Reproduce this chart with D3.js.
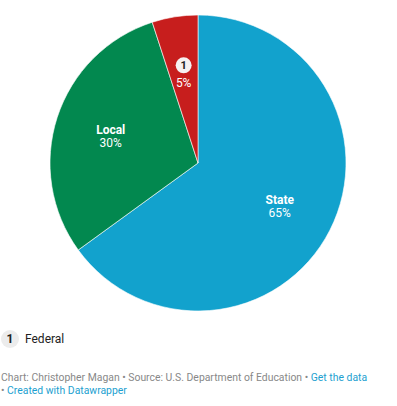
<!DOCTYPE html>
<html>
<head>
<meta charset="utf-8">
<script src="https://cdn.jsdelivr.net/npm/d3@7"></script>
<style>
    body { margin: 0; background: #fff; font-family: Roboto, "Noto Sans", sans-serif; }
    #chart { width: 397px; height: 406px; }
    .footer { font-size: 10.4px; fill: #888; }
    .footer .link { fill: #1d9fd0; }
</style>
</head>
<body>
<div id="chart"></div>
<script>
const categories = ["State", "Local", "Federal"];
const shares = [65, 30, 5];
const sliceColors = ["#12a2cd", "#02884f", "#c71e1d"];

const width = 397;
const height = 406;
const cx = 198;
const cy = 163;
const radius = 148;

const svg = d3.select("#chart")
    .append("svg")
    .attr("width", width)
    .attr("height", height);

const data = categories.map((c, i) => ({ name: c, value: shares[i], color: sliceColors[i] }));

const pie = d3.pie()
    .sort(null)
    .value(d => d.value);

const arc = d3.arc()
    .innerRadius(0)
    .outerRadius(radius);

const labelArc = d3.arc()
    .innerRadius(radius * 0.62)
    .outerRadius(radius * 0.62);

const g = svg.append("g")
    .attr("transform", `translate(${cx}, ${cy})`);

const arcs = pie(data);

g.selectAll("path")
    .data(arcs)
    .enter()
    .append("path")
    .attr("d", arc)
    .attr("fill", d => d.data.color)
    .attr("stroke", "#fff")
    .attr("stroke-width", 0.6);

// slice labels
arcs.forEach(d => {
    const [lx, ly] = labelArc.centroid(d);
    const pct = d.data.value + "%";

    if (d.data.name === "Federal") {
        // small slice gets a numbered marker, name goes in legend
        g.append("circle")
            .attr("cx", lx)
            .attr("cy", ly - 7)
            .attr("r", 8)
            .attr("fill", "#f6f1f1");
        g.append("text")
            .attr("x", lx)
            .attr("y", ly - 3)
            .attr("text-anchor", "middle")
            .attr("font-size", 11)
            .attr("font-weight", "bold")
            .attr("fill", "#222")
            .text("1");
        g.append("text")
            .attr("x", lx)
            .attr("y", ly + 15)
            .attr("text-anchor", "middle")
            .attr("font-size", 12)
            .attr("fill", "#fff")
            .text(pct);
    } else {
        g.append("text")
            .attr("x", lx)
            .attr("y", ly - 1)
            .attr("text-anchor", "middle")
            .attr("font-size", 12)
            .attr("font-weight", "bold")
            .attr("fill", "#fff")
            .text(d.data.name);
        g.append("text")
            .attr("x", lx)
            .attr("y", ly + 12)
            .attr("text-anchor", "middle")
            .attr("font-size", 12)
            .attr("fill", "#fff")
            .text(pct);
    }
});

// legend
svg.append("circle")
    .attr("cx", 10)
    .attr("cy", 339)
    .attr("r", 9)
    .attr("fill", "#ececec");
svg.append("text")
    .attr("x", 10)
    .attr("y", 343)
    .attr("text-anchor", "middle")
    .attr("font-size", 12)
    .attr("font-weight", "bold")
    .attr("fill", "#222")
    .text("1");
svg.append("text")
    .attr("x", 25)
    .attr("y", 343)
    .attr("font-size", 12)
    .attr("fill", "#222")
    .text("Federal");

// footer
const f1 = svg.append("text")
    .attr("class", "footer")
    .attr("x", 1)
    .attr("y", 381);
f1.append("tspan").text("Chart: Christopher Magan • Source: U.S. Department of Education • ");
f1.append("tspan").attr("class", "link").text("Get the data");

const f2 = svg.append("text")
    .attr("class", "footer")
    .attr("x", 1)
    .attr("y", 394);
f2.append("tspan").text("• ");
f2.append("tspan").attr("class", "link").text("Created with Datawrapper");
</script>
</body>
</html>
